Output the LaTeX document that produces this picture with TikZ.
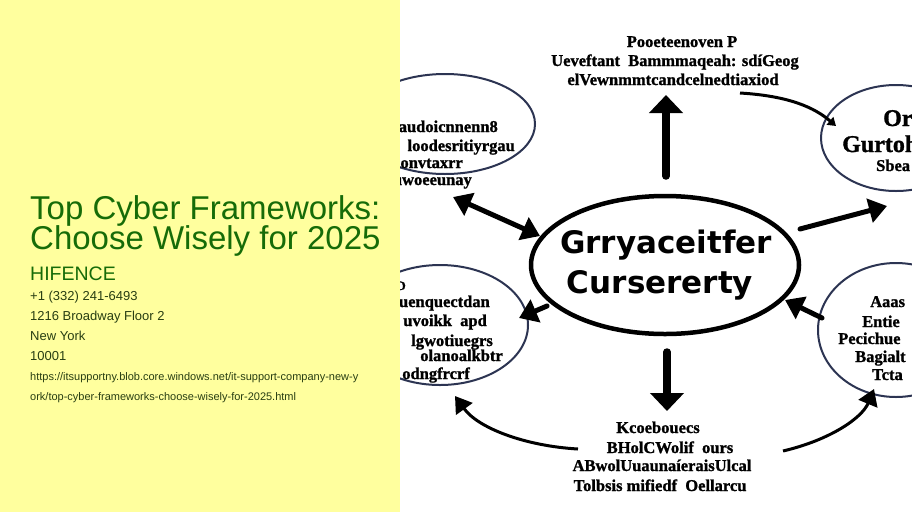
\documentclass[tikz,border=0pt]{standalone}
\usepackage{fontspec}
\setmainfont{Liberation Sans}
\newfontfamily\gibfont{Liberation Serif}[BoldFeatures={FakeBold=1.2}]
\newfontfamily\cenfont{DejaVu Sans}
\usetikzlibrary{arrows.meta,shapes.geometric}
\definecolor{panel}{RGB}{255,255,158}
\definecolor{titlegreen}{RGB}{22,108,8}
\definecolor{infogreen}{RGB}{40,62,18}
\definecolor{rimblue}{RGB}{44,52,82}
\tikzset{
  rim/.style={ellipse, draw=rimblue, line width=2pt, inner sep=0pt},
  core/.style={ellipse, draw=black, line width=4.5pt, inner sep=0pt},
  gib/.style={font=\gibfont\bfseries\fontsize{16.5}{18}\selectfont, inner sep=0pt, text=black},
  gibsmall/.style={font=\gibfont\bfseries\fontsize{13}{14}\selectfont, inner sep=0pt, text=black},
  gibbig/.style={font=\gibfont\bfseries\fontsize{24}{26}\selectfont, inner sep=0pt, text=black},
  cortext/.style={font=\cenfont\bfseries\fontsize{31}{39}\selectfont, inner sep=0pt, text=black},
  fat/.style={line width=7.5pt, line cap=round, -{Triangle[length=18pt,width=33pt]}},
  mid/.style={line width=5pt, line cap=round, -{Triangle[length=18pt,width=24pt]}},
  twohead/.style={line width=5pt, {Triangle[length=18pt,width=24pt]}-{Triangle[length=18pt,width=24pt]}},
  swoop/.style={line width=3pt, -{Triangle[length=16pt,width=20pt]}},
  thin/.style={line width=3pt, -{Triangle[length=8pt,width=10pt]}},
  title/.style={anchor=base west, inner sep=0pt, text=titlegreen, font=\fontsize{33}{33}\selectfont},
  company/.style={anchor=base west, inner sep=0pt, text=titlegreen, font=\fontsize{19.5}{20}\selectfont},
  info/.style={anchor=base west, inner sep=0pt, text=infogreen, font=\fontsize{13}{14}\selectfont},
  link/.style={anchor=base west, inner sep=0pt, text=infogreen, font=\fontsize{11}{12}\selectfont},
}
\begin{document}
\begin{tikzpicture}[x=1pt,y=-1pt]
\useasboundingbox (0,0) rectangle (912,512);
\clip (0,0) rectangle (912,512);
\fill[white] (0,0) rectangle (912,512);

% ---- ellipses ----
\node[core, minimum width=268pt, minimum height=138pt] (center) at (665,265) {};
\node[rim, minimum width=180pt, minimum height=100pt] (tl) at (445,124) {};
\node[rim, minimum width=150pt, minimum height=106pt] (tr) at (896,138) {};
\node[rim, minimum width=176pt, minimum height=120pt] (bl) at (440,325) {};
\node[rim, minimum width=156pt, minimum height=134pt] (br) at (896,330) {};

% ---- center text ----
\node[cortext, anchor=base] (c1) at (666,253) {Grryaceitfer};
\node[cortext, anchor=base] (c2) at (660,293) {Cursererty};

% ---- top text ----
\node[gib, anchor=base] (t1) at (682,47) {Pooeteenoven P};
\node[gib, anchor=base] (t2) at (675,66) {Ueveftant \ Bammmaqeah: sd\'iGeog};
\node[gib, anchor=base] (t3) at (673,85) {elVewnmmtcandcelnedtiaxiod};

% ---- top-left ellipse text ----
\node[gib, anchor=base east] (tl1) at (498,132) {raudoicnnenn8};
\node[gib, anchor=base east] (tl2) at (515,151) {loodesritiyrgau};
\node[gib, anchor=base east] (tl3) at (463,168) {ulidonvtaxrr};
\node[gib, anchor=base east] (tl4) at (472,185) {tuwoeeunay};

% ---- top-right ellipse text ----
\node[gibbig, anchor=base west] (tr1) at (883,126) {Or};
\node[gibbig, anchor=base west] (tr2) at (842,152) {Gurtoh};
\node[gib, anchor=base west] (tr3) at (876,171) {Sbea};

% ---- bottom-left ellipse text ----
\node[gibsmall, anchor=base east] (bl0) at (406,290) {D};
\node[gib, anchor=base east] (bl1) at (490,307) {uenquectdan};
\node[gib, anchor=base east] (bl2) at (487,326) {uvoikk \ apd};
\node[gib, anchor=base east] (bl3) at (493,346) {lgwotiuegrs};
\node[gib, anchor=base east] (bl4) at (503,361) {olanoalkbtr};
\node[gib, anchor=base east] (bl5) at (470,379) {odngfrcrf};

% ---- bottom-right ellipse text ----
\node[gib, anchor=base west] (br1) at (870,307) {Aaas};
\node[gib, anchor=base west] (br2) at (862,327) {Entie};
\node[gib, anchor=base west] (br3) at (838,344) {Pecichue};
\node[gib, anchor=base west] (br4) at (855,362) {Bagialt};
\node[gib, anchor=base west] (br5) at (872,380) {Tcta};

% ---- bottom text ----
\node[gib, anchor=base] (b1) at (658,433) {Kcoebouecs};
\node[gib, anchor=base] (b2) at (670,453) {BHolCWolif \ ours};
\node[gib, anchor=base] (b3) at (662,471) {ABwolUuaunaíeraisUlcal};
\node[gib, anchor=base] (b4) at (660,491) {Tolbsis mifiedf \ Oellarcu};

% ---- connector end points ----
\coordinate (upS) at (666,176);
\coordinate (upE) at (666,95);
\coordinate (dnS) at (667,352);
\coordinate (dnE) at (667,411);
\coordinate (dlA) at (453,197);
\coordinate (dlB) at (540,236);
\coordinate (rtS) at (800,229);
\coordinate (rtE) at (887,206);
\coordinate (blS) at (547,306);
\coordinate (blE) at (519,318);
\coordinate (brS) at (822,318);
\coordinate (brE) at (785,300);
\coordinate (swL) at (578,449);
\coordinate (swLe) at (455,396);
\coordinate (swR) at (783,451);
\coordinate (swRe) at (874,389);
\coordinate (tcS) at (740,93);
\coordinate (tcE) at (836,126);

% ---- connectors ----
\draw[fat] (upS) -- (upE);
\draw[fat] (dnS) -- (dnE);
\draw[twohead] (dlA) -- (dlB);
\draw[mid] (rtS) -- (rtE);
\draw[mid] (blS) -- (blE);
\draw[mid] (brS) -- (brE);
\draw[swoop] (swL) .. controls (525,446) and (478,428) .. (swLe);
\draw[swoop] (swR) .. controls (830,440) and (862,418) .. (swRe);
\draw[thin] (tcS) .. controls (790,96) and (815,108) .. (tcE);

% ---- left panel ----
\fill[panel] (0,0) rectangle (400,512);
\node[title] (title1) at (30,219) {Top Cyber Frameworks:};
\node[title] (title2) at (30,249) {Choose Wisely for 2025};
\node[company] (company) at (30,280) {HIFENCE};
\node[info] (phone) at (30,300) {+1 (332) 241-6493};
\node[info] (street) at (30,320) {1216 Broadway Floor 2};
\node[info] (city) at (30,340) {New York};
\node[info] (zip) at (30,360) {10001};
\node[link] (url1) at (30,380) {https://itsupportny.blob.core.windows.net/it-support-company-new-y};
\node[link] (url2) at (30,400) {ork/top-cyber-frameworks-choose-wisely-for-2025.html};
\end{tikzpicture}
\end{document}
